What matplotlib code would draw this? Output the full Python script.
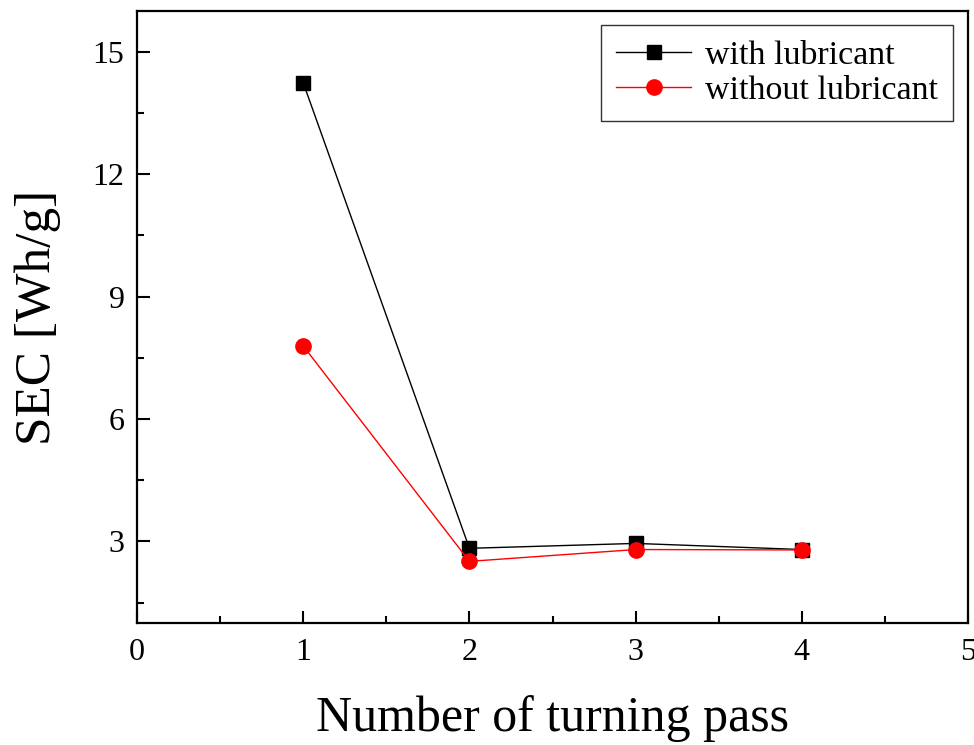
import matplotlib
matplotlib.use("Agg")
import matplotlib.pyplot as plt
from matplotlib.ticker import MultipleLocator

# data
passes = [1, 2, 3, 4]
with_lub = [14.24, 2.83, 2.95, 2.80]
without_lub = [7.79, 2.51, 2.80, 2.79]

plt.rcParams['font.family'] = ['Liberation Serif', 'DejaVu Serif']

fig = plt.figure(figsize=(9.74, 7.45), dpi=100)
ax = fig.add_axes([0.1407, 0.1638, 0.8531, 0.8214])

ax.plot(passes, with_lub, color='black', lw=1, marker='s', ms=10,
        label='with lubricant')
ax.plot(passes, without_lub, color='red', lw=1, marker='o', ms=11,
        label='without lubricant')

ax.set_xlim(0, 5)
ax.set_ylim(1, 16)
ax.xaxis.set_major_locator(MultipleLocator(1))
ax.xaxis.set_minor_locator(MultipleLocator(0.5))
ax.yaxis.set_minor_locator(MultipleLocator(1.5))
ax.set_yticks([3, 6, 9, 12, 15])
ax.tick_params(which='major', direction='in', length=9, width=1.5,
               labelsize=23)
ax.tick_params(axis='x', pad=11)
ax.tick_params(axis='y', pad=9)
ax.tick_params(which='minor', direction='in', length=5, width=1.5)
for sp in ax.spines.values():
    sp.set_linewidth(1.6)

ax.set_xlabel('Number of turning pass', fontsize=36, labelpad=20)
ax.set_ylabel('SEC [Wh/g]', fontsize=37, labelpad=23)

leg = ax.legend(loc='upper right', fontsize=24.5, frameon=True, fancybox=False,
                edgecolor='black', handlelength=2.2, borderpad=0.45,
                labelspacing=0.12, handletextpad=0.4, borderaxespad=0,
                bbox_to_anchor=(0.982, 0.977))
leg.get_frame().set_linewidth(1)

fig.savefig('out.png', dpi=100, facecolor='white')
